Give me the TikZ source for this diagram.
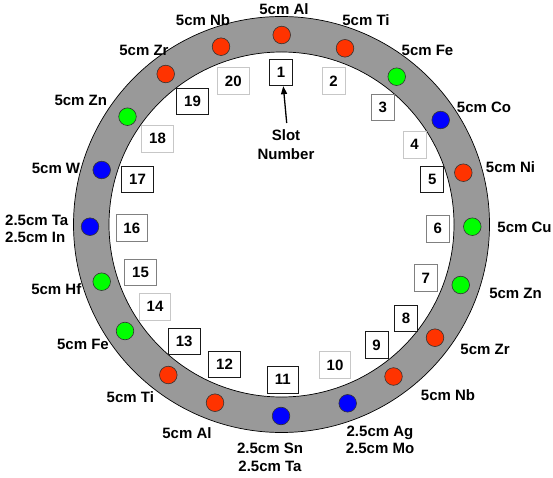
\documentclass[tikz,border=0pt]{standalone}
\usepackage{fontspec}
\setmainfont{Liberation Sans}
\usetikzlibrary{arrows.meta}
\definecolor{ringgray}{RGB}{153,153,153}
\definecolor{dotred}{RGB}{255,51,0}
\definecolor{dotgreen}{RGB}{0,255,0}
\definecolor{dotblue}{RGB}{0,0,255}
\begin{document}
\begin{tikzpicture}[x=1bp,y=-1bp,
  every node/.style={font=\fontsize{15bp}{17.5bp}\selectfont\bfseries, inner sep=0pt},
  lab/.style={align=center},
  slotbox/.style={draw, line width=0.8bp, inner xsep=7.4bp, minimum height=26.5bp, fill=white},
  dk/.style={slotbox, draw=black!90},
  md/.style={slotbox, draw=black!50},
  lt/.style={slotbox, draw=black!22},
  dot/.style={circle, draw=black!80, line width=0.6bp, minimum size=17.6bp, inner sep=0pt},
]
\useasboundingbox (0,0) rectangle (553,478);
\coordinate (c) at (281.5,224.5);
\fill[ringgray, even odd rule] (c) circle[radius=208bp] (c) circle[radius=172.5bp];
\draw[line width=0.7bp] (c) circle[radius=208bp] (c) circle[radius=172.5bp];

% dots
\node[dot, fill=dotred]   (d1)  at (281.7,35) {};
\node[dot, fill=dotred]   (d2)  at (345,48.3) {};
\node[dot, fill=dotgreen] (d3)  at (396.7,76.7) {};
\node[dot, fill=dotblue]  (d4)  at (440.7,120) {};
\node[dot, fill=dotred]   (d5)  at (463.3,172.7) {};
\node[dot, fill=dotgreen] (d6)  at (472.3,226.7) {};
\node[dot, fill=dotgreen] (d7)  at (460.7,285) {};
\node[dot, fill=dotred]   (d8)  at (435,337.7) {};
\node[dot, fill=dotred]   (d9)  at (393.5,376.5) {};
\node[dot, fill=dotblue]  (d10) at (347.7,403.3) {};
\node[dot, fill=dotblue]  (d11) at (281,416) {};
\node[dot, fill=dotred]   (d12) at (215,402.7) {};
\node[dot, fill=dotred]   (d13) at (168.3,375) {};
\node[dot, fill=dotgreen] (d14) at (125,331) {};
\node[dot, fill=dotgreen] (d15) at (101.7,281.7) {};
\node[dot, fill=dotblue]  (d16) at (90,226.7) {};
\node[dot, fill=dotblue]  (d17) at (101.7,170) {};
\node[dot, fill=dotgreen] (d18) at (127.5,116.7) {};
\node[dot, fill=dotred]   (d19) at (165.7,74) {};
\node[dot, fill=dotred]   (d20) at (221,46.7) {};

% slot boxes
\node[dk] (s1)  at (281,72.5) {1};
\node[lt] (s2)  at (333.5,80.8) {2};
\node[md] (s3)  at (382.7,107.5) {3};
\node[lt] (s4)  at (414.5,144.7) {4};
\node[dk] (s5)  at (432.3,179.3) {5};
\node[md] (s6)  at (437.7,228.8) {6};
\node[md] (s7)  at (425.8,278) {7};
\node[dk] (s8)  at (406,318.3) {8};
\node[dk] (s9)  at (376.5,345) {9};
\node[lt] (s10) at (335,365) {10};
\node[dk] (s11) at (282.8,379.7) {11};
\node[dk] (s12) at (224.5,364.5) {12};
\node[dk] (s13) at (184.2,341.3) {13};
\node[lt] (s14) at (155,306.7) {14};
\node[md] (s15) at (140.5,272.5) {15};
\node[md] (s16) at (131.8,228) {16};
\node[dk] (s17) at (137.5,179.2) {17};
\node[lt] (s18) at (157.5,138.7) {18};
\node[dk] (s19) at (192.5,101.3) {19};
\node[lt] (s20) at (233.3,81) {20};

% slot number pointer
\node[lab, font=\fontsize{15bp}{19bp}\selectfont\bfseries] (sn) at (286,144.5) {Slot\\Number};
\coordinate (ast) at (286.7,123);
\draw[line width=1.3bp, -{Triangle[length=8bp,width=6bp]}] (ast) -- ([xshift=2.3bp]s1.south);

% labels
\node[lab] (l1)  at (284,9.5) {5cm Al};
\node[lab] (l2)  at (366,20) {5cm Ti};
\node[lab] (l3)  at (427.5,50) {5cm Fe};
\node[lab] (l4)  at (484,107) {5cm Co};
\node[lab] (l5)  at (510.5,167.5) {5cm Ni};
\node[lab] (l6)  at (524.5,227) {5cm Cu};
\node[lab] (l7)  at (515.5,293.5) {5cm Zn};
\node[lab] (l8)  at (485,349) {5cm Zr};
\node[lab] (l9)  at (448,395) {5cm Nb};
\node[lab] (l10) at (380,440) {2.5cm Ag\\2.5cm Mo};
\node[lab] (l11) at (270,457.5) {2.5cm Sn\\2.5cm Ta};
\node[lab] (l12) at (187,433) {5cm Al};
\node[lab] (l13) at (130.3,397) {5cm Ti};
\node[lab] (l14) at (83,344) {5cm Fe};
\node[lab] (l15) at (56.3,289.5) {5cm Hf};
\node[align=left, anchor=west] (l16) at (5,228.7) {2.5cm Ta\\2.5cm In};
\node[lab] (l17) at (56,168.3) {5cm W};
\node[lab] (l18) at (80.8,100) {5cm Zn};
\node[lab] (l19) at (144,50) {5cm Zr};
\node[lab] (l20) at (203,20) {5cm Nb};
\end{tikzpicture}
\end{document}
